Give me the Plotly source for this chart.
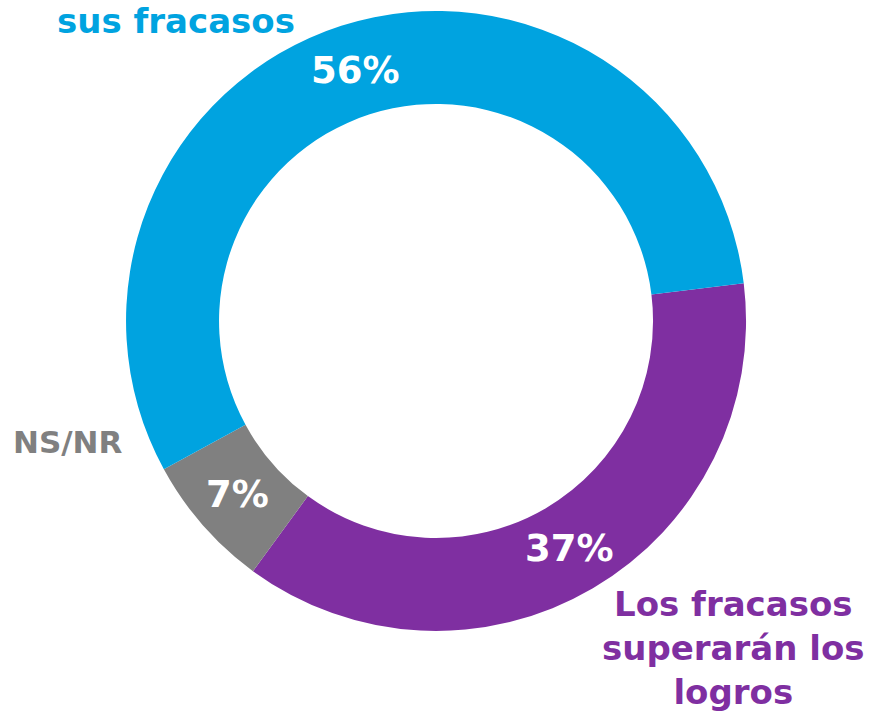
import math
import plotly.graph_objects as go

# Data
categories = ["Los fracasos superarán los logros", "NS/NR", "Los logros superarán sus fracasos"]
values = [37, 7, 56]
colors = ["#7F2FA1", "#808080", "#00A3E0"]
top_label = "sus fracasos"
left_label = "NS/NR"
bottom_label = "Los fracasos<br>superarán los<br>logros"

FONT = "DejaVu Sans"
W, H = 874, 712
HOLE = 0.70
ROTATION = 83
DOM_X = [0.1442, 0.8536]
DOM_Y = [0.1138, 0.9846]

fig = go.Figure()
fig.add_trace(go.Pie(
    labels=categories,
    values=values,
    hole=HOLE,
    sort=False,
    direction="clockwise",
    rotation=ROTATION,
    marker=dict(colors=colors, line=dict(width=0)),
    textinfo="none",
    hoverinfo="label+percent",
    showlegend=False,
    domain=dict(x=DOM_X, y=DOM_Y),
))

# percentage labels placed at each slice's mid-angle, mid-ring (derived from values)
cx_px = (DOM_X[0] + DOM_X[1]) / 2 * W
cy_px = (1 - (DOM_Y[0] + DOM_Y[1]) / 2) * H
R_px = min((DOM_X[1] - DOM_X[0]) * W, (DOM_Y[1] - DOM_Y[0]) * H) / 2
rm = R_px * (1 + HOLE) / 2
total = sum(values)
annotations = []
cum = 0
for v in values:
    theta = math.radians(ROTATION + 360 * (cum + v / 2) / total)
    cum += v
    px = cx_px + rm * math.sin(theta)
    py = cy_px - rm * math.cos(theta)
    annotations.append(dict(text=f"{v}%", x=px / W, y=1 - py / H, xref="paper", yref="paper",
                            xanchor="center", yanchor="middle", showarrow=False,
                            font=dict(family=FONT, size=37, color="white", weight="bold")))

annotations.append(dict(text=top_label, x=176 / W, y=1 - 21 / H, xref="paper", yref="paper",
                        xanchor="center", yanchor="middle", showarrow=False,
                        font=dict(family=FONT, size=34, color="#00A3E0", weight="bold")))
annotations.append(dict(text=left_label, x=68 / W, y=1 - 442 / H, xref="paper", yref="paper",
                        xanchor="center", yanchor="middle", showarrow=False,
                        font=dict(family=FONT, size=31, color="#808080", weight="bold")))
annotations.append(dict(text=bottom_label, x=733 / W, y=1 - 648 / H, xref="paper", yref="paper",
                        xanchor="center", yanchor="middle", align="center", showarrow=False,
                        font=dict(family=FONT, size=34, color="#7F2FA1", weight="bold")))

fig.update_layout(
    width=W, height=H,
    margin=dict(l=0, r=0, t=0, b=0),
    paper_bgcolor="white",
    plot_bgcolor="white",
    annotations=annotations,
)

fig.write_html("out.html", config={"displayModeBar": False},
               post_script="document.body.style.margin='0';document.body.style.overflow='hidden';")
